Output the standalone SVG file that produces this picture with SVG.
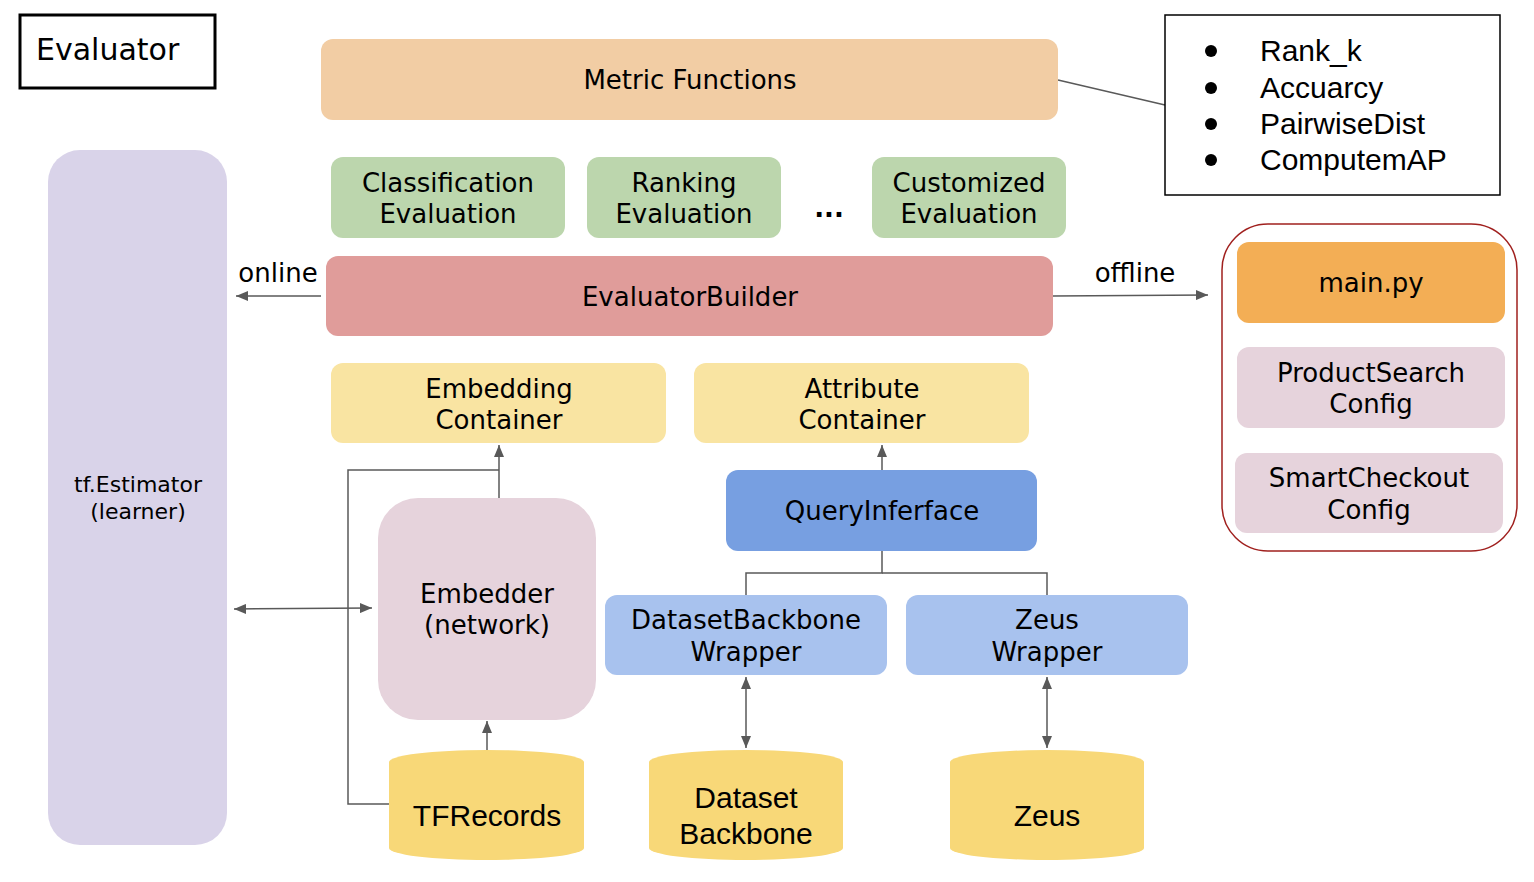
<svg xmlns="http://www.w3.org/2000/svg" width="1534" height="882" viewBox="0 0 1534 882">
  <defs>
    <marker id="arrow" viewBox="0 0 12 10" refX="12" refY="5" markerWidth="12" markerHeight="10" markerUnits="userSpaceOnUse" orient="auto-start-reverse">
      <path d="M0,0 L12,5 L0,10 Z" fill="#595959"/>
    </marker>
    <style>
      text { font-family: "DejaVu Sans", Verdana, sans-serif; fill: #000; text-anchor: middle; dominant-baseline: central; }
      .t26 { font-size: 26px; }
      .arial { font-family: "Liberation Sans", Arial, sans-serif; font-size: 30px; }
      .edge { fill: none; stroke: #595959; stroke-width: 1.5; }
      .metric { fill: #f2cda4; }
      .green { fill: #bcd6ad; }
      .builder { fill: #e09c9a; }
      .yellow { fill: #f9e4a2; }
      .blue { fill: #a8c2ee; }
      .query { fill: #779fe1; }
      .pink { fill: #e6d3dc; }
      .db { fill: #f8d878; }
    </style>
  </defs>

  <!-- title box -->
  <g id="title">
    <rect x="20" y="15" width="195" height="73" fill="#fff" stroke="#000" stroke-width="3"/>
    <text x="36" y="49" style="text-anchor:start;font-size:30px">Evaluator</text>
  </g>

  <!-- connectors -->
  <g id="connectors">
    <line class="edge" x1="1058" y1="80" x2="1165" y2="105"/>
    <line class="edge" x1="321" y1="296" x2="236" y2="296" marker-end="url(#arrow)"/>
    <line class="edge" x1="1053" y1="296" x2="1208" y2="295" marker-end="url(#arrow)"/>
    <line class="edge" x1="882" y1="470" x2="882" y2="445" marker-end="url(#arrow)"/>
    <polyline class="edge" points="882,551 882,573 746,573 746,595"/>
    <polyline class="edge" points="882,573 1047,573 1047,595"/>
    <line class="edge" x1="746" y1="677" x2="746" y2="748" marker-start="url(#arrow)" marker-end="url(#arrow)"/>
    <line class="edge" x1="1047" y1="677" x2="1047" y2="748" marker-start="url(#arrow)" marker-end="url(#arrow)"/>
    <line class="edge" x1="487" y1="750" x2="487" y2="721" marker-end="url(#arrow)"/>
    <line class="edge" x1="499" y1="498" x2="499" y2="445" marker-end="url(#arrow)"/>
    <polyline class="edge" points="389,804 348,804 348,470 499,470"/>
    <line class="edge" x1="234" y1="609" x2="372" y2="608" marker-start="url(#arrow)" marker-end="url(#arrow)"/>
  </g>

  <!-- edge labels -->
  <g id="labels">
    <text class="t26" x="278" y="273">online</text>
    <text class="t26" x="1135" y="273">offline</text>
  </g>

  <g id="metric-functions">
    <rect class="metric" x="321" y="39" width="737" height="81" rx="12"/>
    <text class="t26" x="690" y="80">Metric Functions</text>
  </g>

  <g id="metric-list">
    <rect x="1165" y="15" width="335" height="180" fill="#fff" stroke="#000" stroke-width="1.5"/>
    <circle cx="1211" cy="51" r="6"/>
    <circle cx="1211" cy="88" r="6"/>
    <circle cx="1211" cy="124" r="6"/>
    <circle cx="1211" cy="160" r="6"/>
    <text class="arial" x="1260" y="50" style="text-anchor:start">Rank_k</text>
    <text class="arial" x="1260" y="87" style="text-anchor:start">Accuarcy</text>
    <text class="arial" x="1260" y="123" style="text-anchor:start">PairwiseDist</text>
    <text class="arial" x="1260" y="159" style="text-anchor:start">ComputemAP</text>
  </g>

  <g id="estimator">
    <rect x="48" y="150" width="179" height="695" rx="32" fill="#d9d3e9"/>
    <text x="138" y="484" style="font-size:22px">tf.Estimator</text>
    <text x="138" y="511" style="font-size:22px">(learner)</text>
  </g>

  <g id="classification-eval">
    <rect class="green" x="331" y="157" width="234" height="81" rx="12"/>
    <text class="t26" x="448" y="183">Classification</text>
    <text class="t26" x="448" y="214">Evaluation</text>
  </g>
  <g id="ranking-eval">
    <rect class="green" x="587" y="157" width="194" height="81" rx="12"/>
    <text class="t26" x="684" y="183">Ranking</text>
    <text class="t26" x="684" y="214">Evaluation</text>
  </g>
  <g id="ellipsis">
    <text class="t26" x="829" y="208" style="font-weight:bold">...</text>
  </g>
  <g id="customized-eval">
    <rect class="green" x="872" y="157" width="194" height="81" rx="12"/>
    <text class="t26" x="969" y="183">Customized</text>
    <text class="t26" x="969" y="214">Evaluation</text>
  </g>

  <g id="evaluator-builder">
    <rect class="builder" x="326" y="256" width="727" height="80" rx="12"/>
    <text class="t26" x="690" y="297">EvaluatorBuilder</text>
  </g>

  <g id="offline-group">
    <rect x="1222" y="224" width="295" height="327" rx="46" fill="none" stroke="#a0201e" stroke-width="1.5"/>
  </g>
  <g id="main-py">
    <rect x="1237" y="242" width="268" height="81" rx="12" fill="#f3ae55"/>
    <text class="t26" x="1371" y="283">main.py</text>
  </g>
  <g id="productsearch-config">
    <rect class="pink" x="1237" y="347" width="268" height="81" rx="12"/>
    <text class="t26" x="1371" y="373">ProductSearch</text>
    <text class="t26" x="1371" y="404">Config</text>
  </g>
  <g id="smartcheckout-config">
    <rect class="pink" x="1235" y="453" width="268" height="80" rx="12"/>
    <text class="t26" x="1369" y="478">SmartCheckout</text>
    <text class="t26" x="1369" y="510">Config</text>
  </g>

  <g id="embedding-container">
    <rect class="yellow" x="331" y="363" width="335" height="80" rx="12"/>
    <text class="t26" x="499" y="389">Embedding</text>
    <text class="t26" x="499" y="420">Container</text>
  </g>
  <g id="attribute-container">
    <rect class="yellow" x="694" y="363" width="335" height="80" rx="12"/>
    <text class="t26" x="862" y="389">Attribute</text>
    <text class="t26" x="862" y="420">Container</text>
  </g>

  <g id="query-interface">
    <rect class="query" x="726" y="470" width="311" height="81" rx="12"/>
    <text class="t26" x="882" y="511">QueryInferface</text>
  </g>

  <g id="dataset-wrapper">
    <rect class="blue" x="605" y="595" width="282" height="80" rx="12"/>
    <text class="t26" x="746" y="620">DatasetBackbone</text>
    <text class="t26" x="746" y="652">Wrapper</text>
  </g>
  <g id="zeus-wrapper">
    <rect class="blue" x="906" y="595" width="282" height="80" rx="12"/>
    <text class="t26" x="1047" y="620">Zeus</text>
    <text class="t26" x="1047" y="652">Wrapper</text>
  </g>

  <g id="embedder">
    <rect class="pink" x="378" y="498" width="218" height="222" rx="40"/>
    <text class="t26" x="487" y="594">Embedder</text>
    <text class="t26" x="487" y="625">(network)</text>
  </g>

  <g id="tfrecords">
    <path class="db" d="M389,762 A97.5,12 0 0 1 584,762 L584,848 A97.5,12 0 0 1 389,848 Z"/>
    <text class="arial" x="487" y="815">TFRecords</text>
  </g>
  <g id="dataset-backbone">
    <path class="db" d="M649,762 A97,12 0 0 1 843,762 L843,848 A97,12 0 0 1 649,848 Z"/>
    <text class="arial" x="746" y="797">Dataset</text>
    <text class="arial" x="746" y="833">Backbone</text>
  </g>
  <g id="zeus">
    <path class="db" d="M950,762 A97,12 0 0 1 1144,762 L1144,848 A97,12 0 0 1 950,848 Z"/>
    <text class="arial" x="1047" y="815">Zeus</text>
  </g>
</svg>
